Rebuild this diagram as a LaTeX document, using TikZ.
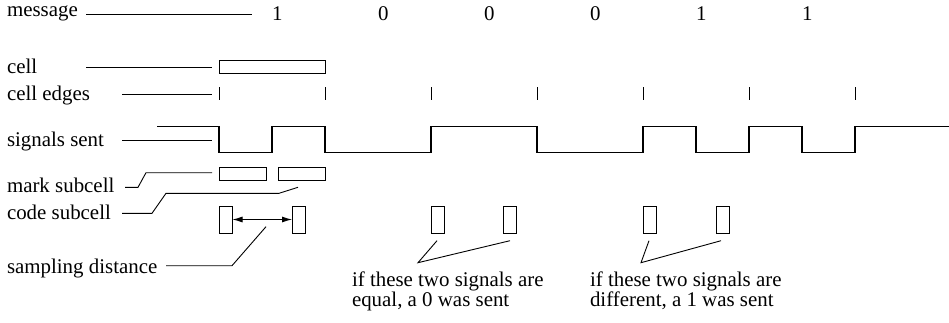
\documentclass[tikz,border=0pt]{standalone}
\usepackage{fontspec}
\setmainfont{Liberation Serif}
\newfontfamily\lblfont{Liberation Serif}
\usetikzlibrary{arrows.meta}
\begin{document}
\begin{tikzpicture}[x=1pt,y=-1pt,
  lbl/.style={anchor=base west,inner sep=0pt,outer sep=0pt,font=\lblfont\fontsize{20.9}{24}\selectfont},
  lead/.style={line width=0.9pt,line join=miter},
  boxstyle/.style={draw,line width=0.9pt,anchor=north west,inner sep=0pt,outer sep=0pt},
  sig/.style={line width=1.1pt,line join=miter},
  tick/.style={line width=0.9pt}]
\useasboundingbox (0,0) rectangle (949,323);

% labels on the left
\node[lbl] (msg)  at (7,17)    {message};
\node[lbl] (cl)   at (7,74)    {cell};
\node[lbl] (ce)   at (7,100.5) {cell edges};
\node[lbl] (ss)   at (7,146.7) {signals sent};
\node[lbl] (ms)   at (7,192.3) {mark subcell};
\node[lbl] (cs)   at (7,219.3) {code subcell};
\node[lbl] (sd)   at (7,273)   {sampling distance};

% message digits
\node[lbl] (d1) at (272,21) {1};
\node[lbl] (d2) at (378,21) {0};
\node[lbl] (d3) at (484,21) {0};
\node[lbl] (d4) at (590,21) {0};
\node[lbl] (d5) at (696,21) {1};
\node[lbl] (d6) at (802,21) {1};

% cell
\node[boxstyle,minimum width=106pt,minimum height=13pt] (cellbox) at (219,60.3) {};

% cell edges
\foreach \x in {219,325,431,537,643,749,855}
  \draw[tick] (\x,87.5) -- (\x,100.5);

% signal
\draw[sig] (157,126.7) -- (219,126.7) -- (219,152.3) -- (272,152.3) -- (272,126.7)
  -- (325,126.7) -- (325,152.3) -- (431,152.3) -- (431,126.7) -- (537,126.7)
  -- (537,152.3) -- (643,152.3) -- (643,126.7) -- (696,126.7) -- (696,152.3)
  -- (749,152.3) -- (749,126.7) -- (802,126.7) -- (802,152.3) -- (855,152.3)
  -- (855,126.7) -- (949,126.7);

% mark and code subcells
\node[boxstyle,minimum width=47pt,minimum height=13pt] (mark) at (219,167) {};
\node[boxstyle,minimum width=47pt,minimum height=13pt] (code) at (278,167) {};

% sample boxes
\foreach \n/\x in {s1/219,s2/292,s3/431,s4/503,s5/643,s6/716}
  \node[boxstyle,minimum width=13.5pt,minimum height=27pt] (\n) at (\x,206) {};

\draw[line width=0.9pt,{Latex[length=10pt,width=6pt]}-{Latex[length=10pt,width=6pt]}] (s1.east) -- (s2.west);

% bottom notes
\node[lbl] (n1a) at (352,286) {if these two signals are};
\node[lbl] (n1b) at (352,306) {equal, a 0 was sent};
\node[lbl] (n2a) at (590,286) {if these two signals are};
\node[lbl] (n2b) at (590,306) {different, a 1 was sent};

% leader coordinates
\coordinate (mA) at (86,14.3);   \coordinate (mB) at (252,14.3);
\coordinate (cA) at (86,67.7);   \coordinate (cB) at (212,67.7);
\coordinate (eA) at (122,94);    \coordinate (eB) at (212,94);
\coordinate (gA) at (122,140.3); \coordinate (gB) at (212,140.3);
\coordinate (kA) at (125,187.3); \coordinate (kB) at (212,172.7);
\coordinate (oA) at (122,213.3); \coordinate (oB) at (298,187.3);
\coordinate (pA) at (166,265.7); \coordinate (pB) at (266,226.7);
\coordinate (q1) at (437,240.7); \coordinate (q2) at (418,262.7); \coordinate (q3) at (510,240.7);
\coordinate (r1) at (649,240.7); \coordinate (r2) at (641,262.7); \coordinate (r3) at (721,240.7);

\draw[lead] (mA) -- (mB);
\draw[lead] (cA) -- (cB);
\draw[lead] (eA) -- (eB);
\draw[lead] (gA) -- (gB);
\draw[lead] (kA) -- (138,187.3) -- (146,172.7) -- (kB);
\draw[lead] (oA) -- (152,213.3) -- (166,193.3) -- (279,193.3) -- (oB);
\draw[lead] (pA) -- (232,265.7) -- (pB);
\draw[lead] (q1) -- (q2) -- (q3);
\draw[lead] (r1) -- (r2) -- (r3);
\end{tikzpicture}
\end{document}
